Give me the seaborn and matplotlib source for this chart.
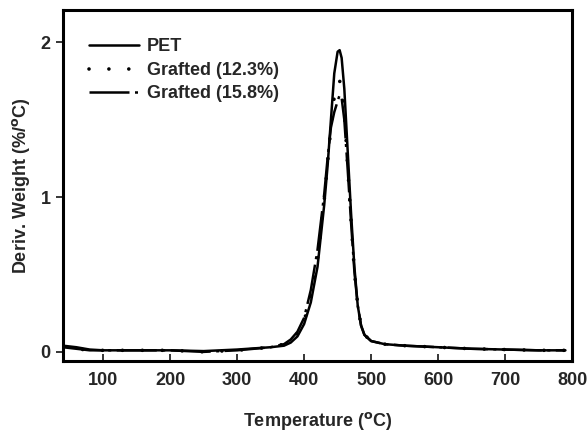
import numpy as np
import pandas as pd
import matplotlib
matplotlib.use("Agg")
import matplotlib.pyplot as plt
import seaborn as sns

# ---- data ----
temp = [40, 60, 80, 100, 150, 200, 250, 300, 350, 370, 380, 390, 400, 410, 420,
        430, 435, 440, 445, 450, 453, 456, 460, 465, 470, 475, 480, 485, 490,
        500, 520, 550, 600, 650, 700, 750, 790]
pet = [0.04, 0.03, 0.015, 0.01, 0.01, 0.01, 0.005, 0.015, 0.03, 0.04, 0.06, 0.10,
       0.18, 0.32, 0.55, 0.95, 1.20, 1.50, 1.80, 1.94, 1.95, 1.90, 1.70, 1.30,
       0.90, 0.55, 0.30, 0.17, 0.11, 0.07, 0.05, 0.04, 0.03, 0.02, 0.015, 0.01, 0.01]
g123 = [0.03, 0.02, 0.01, 0.01, 0.01, 0.01, 0.0, 0.01, 0.03, 0.05, 0.07, 0.12,
        0.20, 0.36, 0.60, 0.98, 1.22, 1.45, 1.65, 1.74, 1.75, 1.72, 1.55, 1.20,
        0.85, 0.52, 0.30, 0.17, 0.11, 0.07, 0.05, 0.04, 0.03, 0.02, 0.015, 0.01, 0.01]
g158 = [0.03, 0.02, 0.01, 0.01, 0.01, 0.01, 0.0, 0.01, 0.03, 0.05, 0.08, 0.13,
        0.22, 0.40, 0.66, 1.02, 1.25, 1.45, 1.55, 1.62, 1.66, 1.64, 1.50, 1.18,
        0.84, 0.52, 0.30, 0.17, 0.11, 0.07, 0.05, 0.04, 0.03, 0.02, 0.015, 0.01, 0.01]
labels = ["PET", "Grafted (12.3%)", "Grafted (15.8%)"]
xticks = [100, 200, 300, 400, 500, 600, 700, 800]
yticks = [0, 1, 2]

sns.set_style("ticks")
plt.rcParams["font.family"] = ["Liberation Sans", "DejaVu Sans"]
plt.rcParams["font.weight"] = "bold"
plt.rcParams["mathtext.default"] = "bf"

fig = plt.figure(figsize=(5.88, 4.32), dpi=100)
ax = fig.add_axes([0.107, 0.164, 0.866, 0.813])

df = pd.DataFrame({"T": temp, labels[0]: pet, labels[1]: g123, labels[2]: g158})

sns.lineplot(data=df, x="T", y=labels[0], ax=ax, color="black", lw=1.8,
             label=labels[0])
sns.lineplot(data=df, x="T", y=labels[1], ax=ax, color="black", lw=2.6,
             label=labels[1], linestyle=(0, (0.01, 5.5)),
             dash_capstyle="round", solid_capstyle="round")
sns.lineplot(data=df, x="T", y=labels[2], ax=ax, color="black", lw=1.8,
             label=labels[2], linestyle=(0, (16.0, 2.2, 1.2, 2.2)))

ax.set_xlim(40, 800)
ax.set_ylim(-0.06, 2.21)
ax.set_xticks(xticks)
ax.set_yticks(yticks)
ax.tick_params(axis="x", direction="in", length=5, width=1.3, labelsize=13, pad=8)
ax.tick_params(axis="y", direction="out", length=5, width=1.3, labelsize=13, pad=4)
for lab in ax.get_xticklabels() + ax.get_yticklabels():
    lab.set_fontweight("bold")
for s in ax.spines.values():
    s.set_linewidth(2.2)
    s.set_color("black")

ax.set_xlabel(r"Temperature ($^{\mathbf{o}}$C)", fontsize=13, fontweight="bold", labelpad=15)
ax.set_ylabel(r"Deriv. Weight (%/$^{\mathbf{o}}$C)", fontsize=13, fontweight="bold", labelpad=6)

leg = ax.legend(loc="upper left", bbox_to_anchor=(0.02, 0.965), frameon=False,
                handlelength=2.77, handletextpad=0.42, labelspacing=0.36,
                prop={"weight": "bold", "size": 13})

fig.savefig("out.png", dpi=100)
